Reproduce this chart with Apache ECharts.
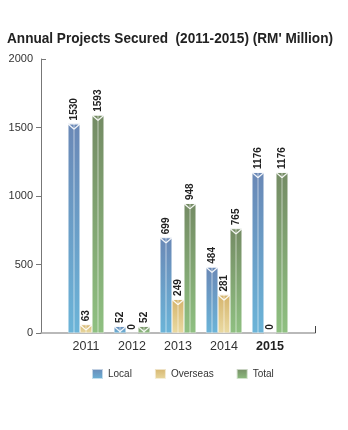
<!DOCTYPE html>
<html>
<head>
<meta charset="utf-8">
<script src="https://cdn.jsdelivr.net/npm/echarts@6/dist/echarts.min.js"></script>
<style>
  html, body { margin: 0; padding: 0; background: #fff; }
  #chart { width: 348px; height: 430px; }
</style>
</head>
<body>
<div id="chart"></div>
<script>
// Annual projects secured, RM' million
const years = ['2011', '2012', '2013', '2014', '2015'];
const localValues = [1530, 52, 699, 484, 1176];
const overseasValues = [63, 0, 249, 281, 0];
const totalValues = [1593, 52, 948, 765, 1176];
const yTicks = [0, 500, 1000, 1500, 2000];

const titleText = "Annual Projects Secured  (2011-2015) (RM' Million)";
const seriesNames = ['Local', 'Overseas', 'Total'];
const seriesValues = [localValues, overseasValues, totalValues];
const gradients = [
  ['#6a88b6', '#6bb4d8'],
  ['#d5b46c', '#eadaa2'],
  ['#748b64', '#8fc081']
];

function grad(c) {
  return new echarts.graphic.LinearGradient(0, 0, 0, 1, [
    { offset: 0, color: c[0] },
    { offset: 1, color: c[1] }
  ]);
}

const FONT = "'Liberation Sans', Arial, sans-serif";
const BW = 12;

// condensed bold heading: squeeze a regular bold face to the wanted width
const TITLE_FONT = "bold 15px 'Liberation Sans', Arial, sans-serif";
const TITLE_WIDTH = 326;
const measureCtx = document.createElement('canvas').getContext('2d');
measureCtx.font = TITLE_FONT;
const titleScale = Math.min(1, TITLE_WIDTH / measureCtx.measureText(titleText).width);

const series = [];
seriesNames.forEach((name, i) => {
  series.push({
    name: name,
    type: 'bar',
    xAxisIndex: 1,
    yAxisIndex: 2,
    barWidth: BW,
    barGap: 0,
    data: seriesValues[i],
    itemStyle: {
      color: grad(gradients[i]),
      borderColor: 'rgba(255,255,255,0.6)',
      borderWidth: 0.6
    },
    label: {
      show: true,
      position: 'top',
      rotate: 90,
      align: 'left',
      verticalAlign: 'middle',
      distance: 3,
      fontFamily: FONT,
      fontWeight: 'bold',
      fontSize: 10,
      color: '#222'
    },
    z: 2
  });
});
// thin light stripe down the middle of each bar
seriesNames.forEach((name, i) => {
  series.push({
    type: 'pictorialBar',
    xAxisIndex: 1,
    yAxisIndex: 2,
    barWidth: BW,
    barGap: 0,
    symbol: 'rect',
    symbolSize: [1, '100%'],
    symbolPosition: 'start',
    data: seriesValues[i].map(v => v === 0 ? '-' : v),
    itemStyle: { color: 'rgba(255,255,255,0.55)' },
    silent: true,
    z: 3
  });
});
// white chevron cap at the top of each bar
seriesNames.forEach((name, i) => {
  series.push({
    type: 'pictorialBar',
    xAxisIndex: 2,
    yAxisIndex: 2,
    barWidth: BW,
    barGap: 0,
    symbol: 'path://M0,0 L12,0 L12,1.3 L6.6,6 L5.4,6 L0,1.3 Z M1.6,1 L6,4.8 L10.4,1 Z',
    symbolSize: [BW, 6],
    symbolPosition: 'end',
    data: seriesValues[i].map(v => v === 0 ? '-' : v),
    itemStyle: { color: 'rgba(255,255,255,0.9)' },
    silent: true,
    z: 4
  });
});

const chart = echarts.init(document.getElementById('chart'), null, { renderer: 'canvas' });
chart.setOption({
  animation: false,
  backgroundColor: '#fff',
  graphic: [{
    type: 'text',
    left: 7,
    top: 31,
    scaleX: titleScale,
    originX: 0,
    style: {
      text: titleText,
      font: TITLE_FONT,
      fill: '#222'
    }
  }],
  legend: {
    data: seriesNames,
    left: 86,
    top: 363,
    itemWidth: 11,
    itemHeight: 10,
    itemGap: 22,
    icon: 'rect',
    textStyle: { fontFamily: FONT, fontSize: 10, color: '#333' }
  },
  grid: [
    { left: 41, right: 33, top: 59, bottom: 97 },
    { left: 63, right: 55, top: 59, bottom: 97 }
  ],
  xAxis: [
    {
      type: 'value', gridIndex: 0, min: 0, max: 1,
      axisLine: { show: true, lineStyle: { color: '#a3a3a3', width: 1.6 } },
      axisTick: { show: true, inside: true, length: 7, customValues: [1], lineStyle: { color: '#444' } },
      axisLabel: { show: false },
      splitLine: { show: false }
    },
    {
      type: 'category', gridIndex: 1, data: years,
      axisLine: { show: false },
      axisTick: { show: false },
      axisLabel: {
        interval: 0,
        margin: 7,
        fontFamily: FONT,
        fontSize: 12.5,
        color: '#333',
        formatter: v => v === '2015' ? '{b|' + v + '}' : v,
        rich: { b: { fontFamily: FONT, fontSize: 12.5, fontWeight: 'bold', color: '#222' } }
      }
    },
    {
      type: 'category', gridIndex: 1, data: years, show: false
    }
  ],
  yAxis: [
    {
      type: 'value', gridIndex: 0, min: 0, max: 2000, interval: 500,
      axisLine: { show: true, lineStyle: { color: '#777', width: 1 } },
      axisTick: { show: true, length: 5, customValues: yTicks.slice(0, 4), lineStyle: { color: '#777' } },
      axisLabel: {
        margin: 8, fontFamily: FONT, fontSize: 11, color: '#333',
        customValues: yTicks, formatter: v => String(v)
      },
      splitLine: { show: false }
    },
    {
      type: 'value', gridIndex: 0, min: 0, max: 2000, position: 'left',
      axisLine: { show: false },
      axisTick: { show: true, inside: true, length: 5, customValues: [2000], lineStyle: { color: '#777' } },
      axisLabel: { show: false },
      splitLine: { show: false }
    },
    {
      type: 'value', gridIndex: 1, min: 0, max: 2000, show: false
    }
  ],
  series: series
});
</script>
</body>
</html>
